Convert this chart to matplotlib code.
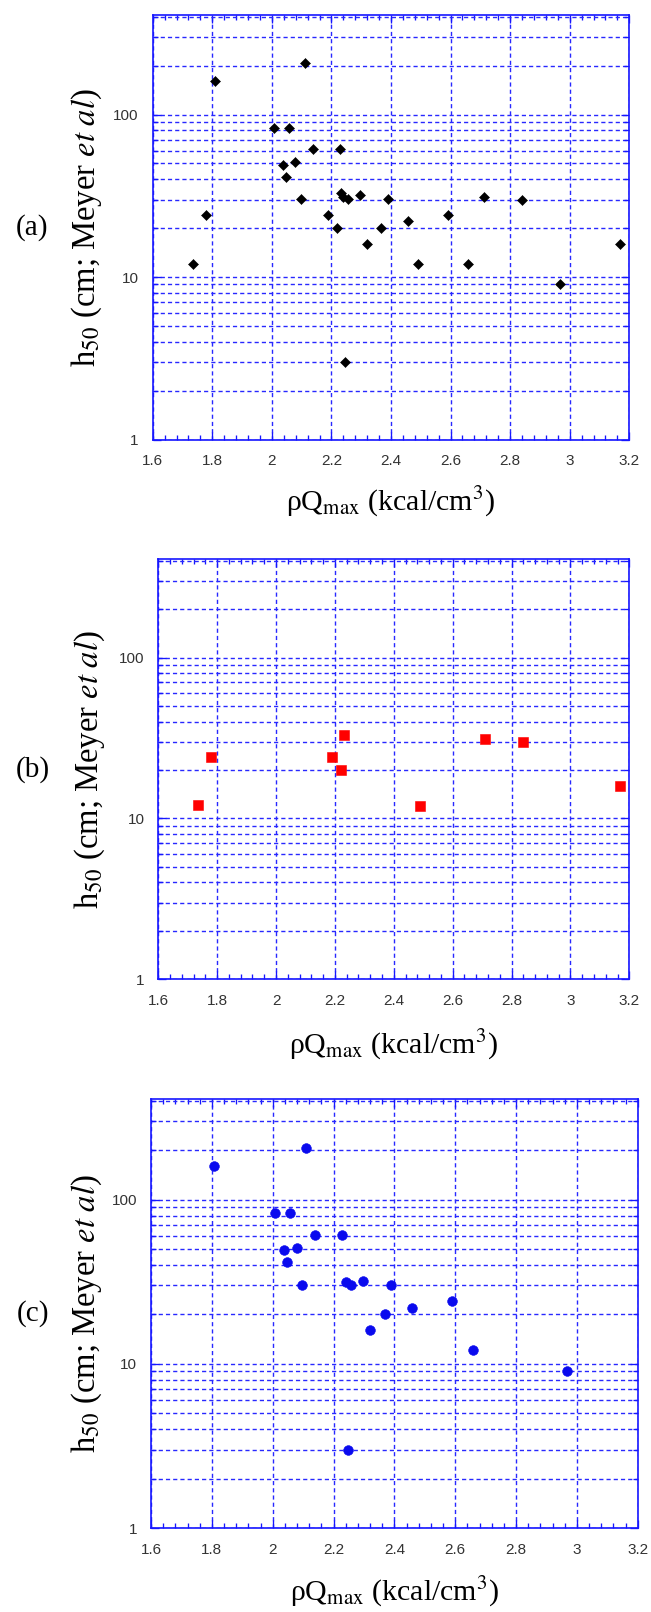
import matplotlib
matplotlib.use("Agg")
import matplotlib.pyplot as plt
from matplotlib.ticker import FixedLocator, FixedFormatter, MultipleLocator, LogLocator, NullFormatter

# ---------------- data ----------------
panel_labels = ["(a)", "(b)", "(c)"]

red_x = [1.734, 1.778, 2.190, 2.219, 2.232, 2.490, 2.711, 2.840, 3.169]
red_y = [12.1, 24.0, 24.0, 19.9, 33.0, 12.0, 31.0, 30.0, 15.9]

blue_x = [1.808, 2.007, 2.058, 2.110, 2.138, 2.038, 2.079, 2.047, 2.098, 2.229,
          2.240, 2.257, 2.296, 2.319, 2.368, 2.390, 2.247, 2.457, 2.590, 2.658, 2.967]
blue_y = [160, 83, 82.5, 207, 61, 49, 51, 41.5, 30.2, 61,
          31.3, 30.2, 32, 16, 20.1, 30.2, 3.0, 22, 24.2, 12.1, 9.0]

all_x = red_x + blue_x
all_y = red_y + blue_y

xticks = [1.6, 1.8, 2.0, 2.2, 2.4, 2.6, 2.8, 3.0, 3.2]
xticklabels = ["1.6", "1.8", "2", "2.2", "2.4", "2.6", "2.8", "3", "3.2"]
yticks = [1, 10, 100]
yticklabels = ["1", "10", "100"]

xlabel = "ρQ$_{\\mathrm{max}}$ (kcal/cm$^{\\mathrm{3}}$)"
ylabel = "h$_{\\mathrm{50}}$ (cm; Meyer $\\mathit{et\\ al}$)"

# ---------------- style ----------------
plt.rcParams['mathtext.fontset'] = 'stix'

W, H = 651, 1612
fig = plt.figure(figsize=(W / 100, H / 100), dpi=100)

BLUE_AX = '#1616ff'
BLUE_GRID = '#2828ff'

# pixel boxes: left, right, top, bottom
boxes = [(152.7, 629.3, 15.0, 439.5),
         (158.3, 629.3, 559.0, 979.3),
         (151.0, 637.7, 1099.0, 1528.0)]
label_x = [32, 33, 32.5]
ylabel_x = [87, 90, 87]
xlabel_off = [62, 66, 64]

series = [
    (all_x, all_y, dict(marker='D', color='black', ms=5.2, mec='black', mew=0.4)),
    (red_x, red_y, dict(marker='s', color='#ff0000', ms=7.2, mec='#ff0000', mew=0.4)),
    (blue_x, blue_y, dict(marker='o', color='#0a0aee', ms=7.0, mec='#0a0aee', mew=0.4)),
]

for i, ((L, R, T, B), (sx, sy, st)) in enumerate(zip(boxes, series)):
    ax = fig.add_axes([L / W, 1 - B / H, (R - L) / W, (B - T) / H])
    ax.set_yscale('log')
    ax.set_xlim(1.6, 3.2)
    ax.set_ylim(1, 410)
    ax.plot(sx, sy, linestyle='none', zorder=5, **st)

    ax.xaxis.set_major_locator(FixedLocator(xticks))
    ax.xaxis.set_major_formatter(FixedFormatter(xticklabels))
    ax.xaxis.set_minor_locator(MultipleLocator(0.04))
    ax.yaxis.set_major_locator(FixedLocator(yticks))
    ax.yaxis.set_major_formatter(FixedFormatter(yticklabels))
    ax.yaxis.set_minor_locator(LogLocator(base=10, subs=[2, 3, 4, 5, 6, 7, 8, 9]))
    ax.yaxis.set_minor_formatter(NullFormatter())

    ax.grid(True, which='major', axis='both', color=BLUE_GRID, linestyle=(0, (3.0, 2.2)), linewidth=1.0)
    ax.grid(True, which='minor', axis='y', color=BLUE_GRID, linestyle=(0, (3.0, 2.2)), linewidth=1.0)
    ax.set_axisbelow(True)

    for sp in ax.spines.values():
        sp.set_color(BLUE_AX)
        sp.set_linewidth(1.2)

    ax.tick_params(which='both', direction='in', top=True, right=True, color=BLUE_AX, width=0.95)
    ax.tick_params(which='major', length=5.8)
    ax.tick_params(which='minor', length=3.4)
    ax.tick_params(axis='x', which='major', pad=10.5, labelsize=11, labelcolor='#333333')
    ax.tick_params(axis='y', which='major', pad=10.0, labelsize=11, labelcolor='#333333')
    for lab in ax.get_xticklabels() + ax.get_yticklabels():
        lab.set_fontfamily('Liberation Sans')

    cy = (T + B) / 2
    fig.text(label_x[i] / W, 1 - cy / H, panel_labels[i], fontsize=21,
             family='Liberation Serif', ha='center', va='center')
    fig.text(ylabel_x[i] / W, 1 - cy / H, ylabel, fontsize=23.5, rotation=90,
             family='Liberation Serif', ha='center', va='center')
    fig.text(((L + R) / 2) / W, 1 - (B + xlabel_off[i]) / H, xlabel, fontsize=21.5,
             family='Liberation Serif', ha='center', va='center')

fig.savefig('out.png', dpi=100)
